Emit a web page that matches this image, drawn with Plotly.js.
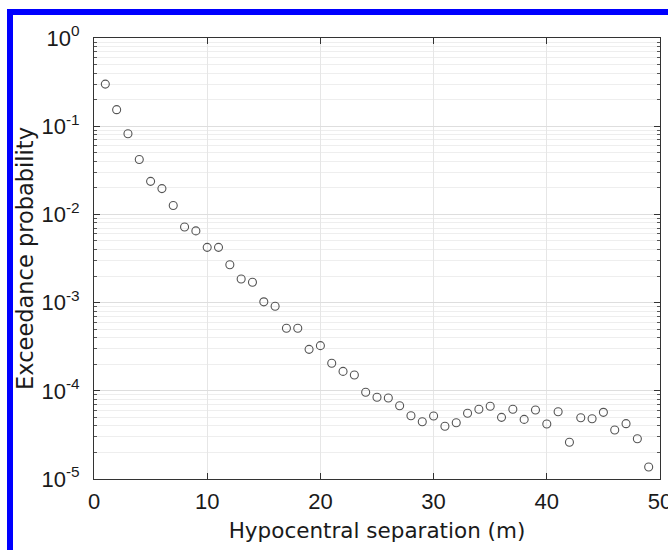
<!DOCTYPE html>
<html>
<head>
<meta charset="utf-8">
<script src="https://cdn.plot.ly/plotly-3.0.1.min.js"></script>
<style>
  html, body { margin: 0; padding: 0; background: #ffffff; }
  #wrap { position: relative; width: 668px; height: 550px; overflow: hidden; }
  #chart { position: absolute; left: 0; top: 0; width: 668px; height: 550px; }
  #frame { position: absolute; left: 7px; top: 9px; width: 700px; height: 600px;
           border-top: 6px solid #0000ff; border-left: 6px solid #0000ff; pointer-events: none; }
</style>
</head>
<body>
<div id="wrap">
  <div id="chart"></div>
  <div id="frame"></div>
</div>
<script>
// Hypocentral separation (m)
const separation = [1,2,3,4,5,6,7,8,9,10,11,12,13,14,15,16,17,18,19,20,21,22,23,24,25,
                    26,27,28,29,30,31,32,33,34,35,36,37,38,39,40,41,42,43,44,45,46,47,48,49];
// Exceedance probability
const exceedance = [0.30,0.154,0.082,0.042,0.0237,0.0196,0.0126,0.0072,0.0065,0.00423,
                    0.00423,0.00269,0.00185,0.0017,0.00102,0.00091,0.000512,0.000512,0.000295,0.000325,
                    0.000205,0.000166,0.000151,0.0000962,0.0000844,0.0000828,0.0000678,0.0000522,0.0000446,0.0000518,
                    0.0000396,0.0000435,0.0000556,0.0000617,0.0000667,0.00005,0.0000617,0.0000474,0.0000605,0.000042,
                    0.0000579,0.0000261,0.0000494,0.0000482,0.000057,0.000036,0.0000424,0.0000286,0.0000137];
// Tick labels
const xTickVals = [0,10,20,30,40,50];
const xTickText = ['0','10','20','30','40','50'];
const yTickVals = [1e-5,1e-4,1e-3,1e-2,1e-1,1];
const yTickText = ['10<sup>-5</sup>','10<sup>-4</sup>','10<sup>-3</sup>','10<sup>-2</sup>','10<sup>-1</sup>','10<sup>0</sup>'];

const trace = {
  x: separation,
  y: exceedance,
  type: 'scatter',
  mode: 'markers',
  marker: { symbol: 'circle-open', size: 8, color: '#555555', line: { width: 1.1, color: '#555555' } },
  hoverinfo: 'x+y'
};

const tickFont = { family: 'Liberation Sans, Arial, sans-serif', size: 22, color: '#1a1a1a' };
const titleFont = { family: 'DejaVu Sans, sans-serif', size: 21.5, color: '#1a1a1a' };

const layout = {
  width: 668,
  height: 550,
  margin: { l: 94, r: 8, t: 38, b: 71 },
  paper_bgcolor: '#ffffff',
  plot_bgcolor: '#ffffff',
  showlegend: false,
  xaxis: {
    range: [0, 50],
    tickmode: 'array',
    tickvals: xTickVals,
    ticktext: xTickText,
    ticks: 'inside',
    ticklen: 6,
    tickcolor: '#333333',
    showline: true,
    linecolor: '#333333',
    linewidth: 1,
    mirror: 'ticks',
    showgrid: true,
    gridcolor: '#e6e6e6',
    gridwidth: 1,
    zeroline: false,
    tickfont: tickFont,
    ticklabelstandoff: 3,
    ticklabeloverflow: 'allow',
    title: { text: 'Hypocentral separation (m)', font: titleFont, standoff: 9 }
  },
  yaxis: {
    type: 'log',
    range: [-5, 0],
    tickmode: 'array',
    tickvals: yTickVals,
    ticktext: yTickText,
    ticks: 'inside',
    ticklen: 6,
    tickcolor: '#333333',
    showline: true,
    linecolor: '#333333',
    linewidth: 1,
    mirror: 'ticks',
    showgrid: true,
    gridcolor: '#dedede',
    gridwidth: 1,
    zeroline: false,
    tickfont: tickFont,
    ticklabelstandoff: 9,
    ticklabeloverflow: 'allow',
    minor: { dtick: 'D1', ticks: 'inside', ticklen: 3, tickcolor: '#555555', showgrid: true, gridcolor: '#eeeeee', gridwidth: 1 },
    title: { text: 'Exceedance probability', font: { family: 'DejaVu Sans, sans-serif', size: 22.5, color: '#1a1a1a' }, standoff: 1 }
  }
};

Plotly.newPlot('chart', [trace], layout, { displayModeBar: false, staticPlot: true });
</script>
</body>
</html>
